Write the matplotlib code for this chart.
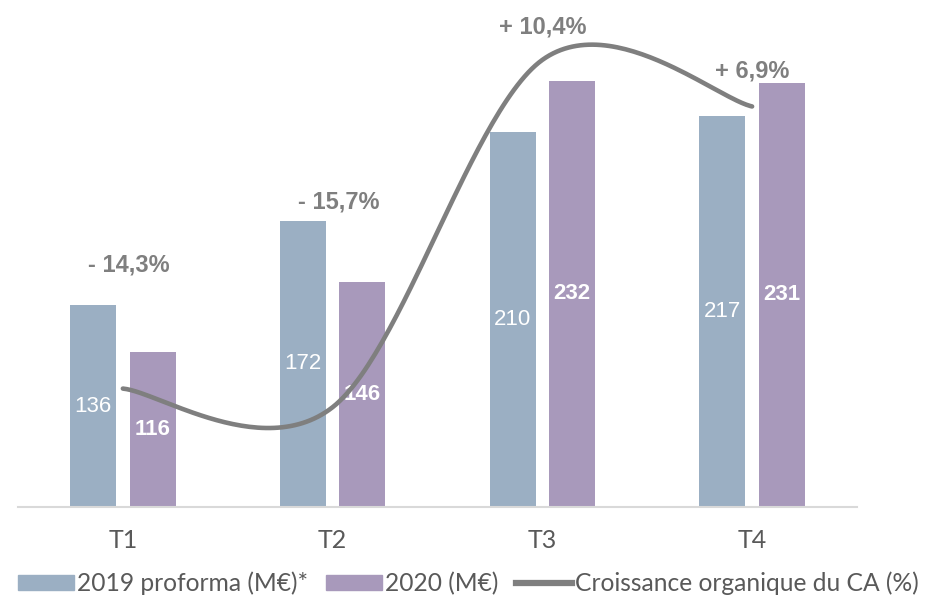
import numpy as np
import matplotlib.pyplot as plt
from matplotlib import font_manager
from matplotlib.lines import Line2D
from matplotlib.patches import Patch

# data
quarters = ["T1", "T2", "T3", "T4"]
ca_2019 = [136, 172, 210, 217]
ca_2020 = [116, 146, 232, 231]
growth = [-14.3, -15.7, 10.4, 6.9]
growth_labels = ["- 14,3%", "- 15,7%", "+ 10,4%", "+ 6,9%"]

# label placement (primary axis units)
growth_label_x = [0.03, 1.03, 2.0, 3.0]
growth_label_y = [153, 180, 255, 236]

blue = "#9BAFC3"
purple = "#A899BB"
grey = "#7F7F7F"

# Arial Narrow look-alike if present, otherwise plain Liberation Sans
names = {f.name for f in font_manager.fontManager.ttflist}
if "Liberation Sans Narrow" in names:
    narrow, num_size, pct_size = "Liberation Sans Narrow", 18, 19
else:
    narrow, num_size, pct_size = "Liberation Sans", 16, 17


def smooth(xs, ys, n=60):
    """Catmull-Rom spline like Excel's smoothed line."""
    px = np.r_[xs[0], xs, xs[-1]]
    py = np.r_[ys[0], ys, ys[-1]]
    out_x, out_y = [], []
    t = np.linspace(0, 1, n)
    for i in range(1, len(px) - 2):
        p0, p1, p2, p3 = py[i - 1], py[i], py[i + 1], py[i + 2]
        q0, q1, q2, q3 = px[i - 1], px[i], px[i + 1], px[i + 2]
        m1, m2 = (p2 - p0) / 2, (p3 - p1) / 2
        k1, k2 = (q2 - q0) / 2, (q3 - q1) / 2
        h00 = 2 * t**3 - 3 * t**2 + 1
        h10 = t**3 - 2 * t**2 + t
        h01 = -2 * t**3 + 3 * t**2
        h11 = t**3 - t**2
        out_y.extend(h00 * p1 + h10 * m1 + h01 * p2 + h11 * m2)
        out_x.extend(h00 * q1 + h10 * k1 + h01 * q2 + h11 * k2)
    return np.array(out_x), np.array(out_y)


fig = plt.figure(figsize=(9.37, 6.11), dpi=100)
ax = fig.add_axes([0.0192, 0.1702, 0.8954, 0.8298])
x = np.arange(len(quarters))
w = 0.22
off = 0.142

ax.bar(x - off, ca_2019, w, color=blue, zorder=2)
ax.bar(x + off, ca_2020, w, color=purple, zorder=2)

ax.set_xlim(-0.5, 3.5)
ax.set_ylim(49.6, 266.5)
ax.set_yticks([])
for s in ["top", "right", "left"]:
    ax.spines[s].set_visible(False)
ax.spines["bottom"].set_color("#D9D9D9")
ax.spines["bottom"].set_linewidth(1.5)
ax.set_xticks(x)
ax.set_xticklabels(quarters, fontsize=18, family="Lato", color="#595959")
ax.tick_params(axis="x", length=0, pad=16)

for xi, v in zip(x, ca_2019):
    ax.text(xi - off, (49.6 + v) / 2, str(v), ha="center", va="center",
            color="white", fontsize=num_size, family=narrow, zorder=5)
for xi, v in zip(x, ca_2020):
    ax.text(xi + off, (49.6 + v) / 2, str(v), ha="center", va="center",
            color="white", fontsize=num_size, fontweight="bold", family=narrow,
            zorder=5)
for lx, ly, t in zip(growth_label_x, growth_label_y, growth_labels):
    ax.text(lx, ly, t, ha="center", va="center", color=grey, fontsize=pct_size,
            fontweight="bold", family=narrow)

ax2 = ax.twinx()
ax2.set_ylim(-23.2, 14.9)
ax2.axis("off")
sx, sy = smooth(x.astype(float), np.array(growth))
ax2.plot(sx, sy, color=grey, lw=3.3, solid_capstyle="round", zorder=4)
ax2.set_xlim(-0.5, 3.5)

handles = [Patch(color=blue), Patch(color=purple),
           Line2D([], [], color=grey, lw=4.5)]
labels = ["2019 proforma (M€)*", "2020 (M€)", "Croissance organique du CA (%)"]
fig.legend(handles, labels, loc="lower center", bbox_to_anchor=(0.5, -0.01),
           ncol=3, frameon=False, prop={"family": "Lato", "size": 17.7},
           labelcolor="#595959", handlelength=2.3, handleheight=0.6,
           handletextpad=0.12, columnspacing=0.7)

fig.savefig("out.png", dpi=100)
